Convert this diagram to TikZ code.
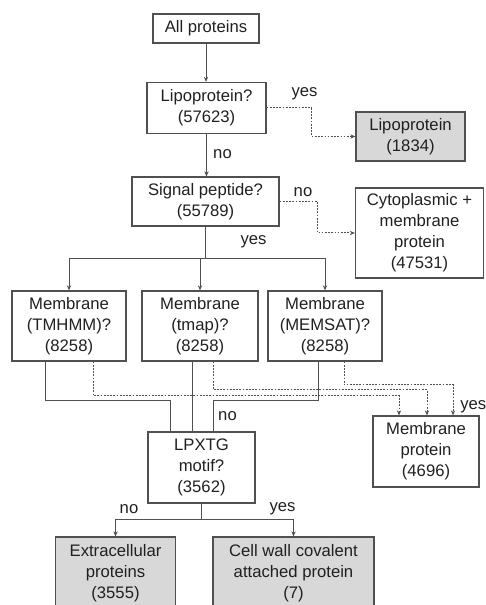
\documentclass[tikz,border=0pt]{standalone}
\usepackage{fontspec}
\setmainfont{Liberation Sans}
\usetikzlibrary{arrows.meta, calc}
\definecolor{linegray}{HTML}{505050}
\definecolor{boxgray}{HTML}{D8D8D8}
\definecolor{textgray}{HTML}{202020}
\begin{document}
\begin{tikzpicture}[x=0.75pt, y=-0.75pt,
	txt/.style={font=\fontsize{12.5}{15.75}\selectfont, text=textgray},
	box/.style={rectangle, draw=linegray, line width=0.9pt, align=center, inner sep=0pt, txt},
	result/.style={box, fill=boxgray},
	tag/.style={txt, inner sep=0pt},
	flow/.style={draw=linegray, line width=0.75pt},
	arr/.style={flow, -{Stealth[length=3.8pt, width=3.2pt]}},
	maybe/.style={arr, dash pattern=on 1.3pt off 1.1pt}]
			\useasboundingbox (0,0) rectangle (485,605);
			\node[box, minimum width=79.5pt, minimum height=21.75pt] (All) at (206,28.5) {All proteins};
			\node[box, minimum width=89.25pt, minimum height=38.25pt] (LipoQ) at (206.5,108) {Lipoprotein?\\(57623)};
			\node[result, minimum width=81.75pt, minimum height=36.75pt] (Lipo) at (410.5,136.5) {Lipoprotein\\(1834)};
			\node[box, minimum width=110.25pt, minimum height=36.75pt] (Signal) at (205.5,201.5) {Signal peptide?\\(55789)};
			\node[box, minimum width=96pt, minimum height=67.5pt] (Cyto) at (419.5,233) {Cytoplasmic +\\membrane\\protein\\(47531)};
			
			\node[box, minimum width=85.5pt, minimum height=52.5pt] (TMHMM) at (69,326) {Membrane\\(TMHMM)?\\(8258)};
			\node[box, minimum width=87pt, minimum height=52.5pt] (Tmap) at (200,326) {Membrane\\(tmap)?\\(8258)};
			\node[box, minimum width=85.5pt, minimum height=52.5pt] (MEMSAT) at (325,326) {Membrane\\(MEMSAT)?\\(8258)};
			\node[box, minimum width=79.5pt, minimum height=53.25pt] (MemProt) at (426,451.5) {Membrane\\protein\\(4696)};
			\node[box, minimum width=80.25pt, minimum height=53.25pt] (LPXTG) at (201.5,467.5) {LPXTG\\motif?\\(3562)};
			\node[result, minimum width=90pt, minimum height=54pt] (Extra) at (115.5,573) {Extracellular\\proteins\\(3555)};
			\node[result, minimum width=120.75pt, minimum height=54pt] (CellWall) at (293.5,573) {Cell wall covalent\\attached protein\\(7)};
			
			\node[tag] (yesLipo) at (304.5,94) {yes};
			\node[tag] (noLipo) at (222.5,154) {no};
			\node[tag] (noSignal) at (303,192.5) {no};
			\node[tag] (yesSignal) at (253.5,241.5) {yes};
			\node[tag] (noMem) at (227.5,416.5) {no};
			\node[tag, anchor=west] (yesMem) at (460,407) {yes};
			\node[tag] (noMotif) at (129,509) {no};
			\node[tag] (yesMotif) at (282.5,509) {yes};
			
			\draw[arr] (All.south) -- (All.south |- LipoQ.north);
			\draw[maybe] (LipoQ.east) -- ++(45,0) |- (Lipo.west);
			\draw[arr] (LipoQ.south) -- (LipoQ.south |- Signal.north);
			\draw[maybe] (Signal.east) -- ++(38,0) |- (Cyto.west);
			\draw[flow] (Signal.south) -- ++(0,32) coordinate (split);
			\foreach \m in {TMHMM, Tmap, MEMSAT}
				\draw[arr] (split) -| (\m.north);
			
			\draw[flow] ($(TMHMM.south)+(-24,0)$) -- ++(0,39) -| ($(LPXTG.north)+(-31.5,0)$);
			\coordinate (tmapOut) at ($(Tmap.south)+(-8,0)$);
			\draw[flow] (tmapOut) -- (tmapOut |- LPXTG.north);
			\draw[flow] ($(MEMSAT.south)+(-7,0)$) -- ++(0,39) -| ($(LPXTG.north)+(11.5,0)$);
			\draw[maybe] ($(TMHMM.south)+(24,0)$) -- ++(0,34) -| ($(MemProt.north)+(-27,0)$);
			\draw[maybe] ($(Tmap.south)+(13,0)$) -- ++(0,28) -| ($(MemProt.north)+(1,0)$);
			\draw[maybe] ($(MEMSAT.south)+(19,0)$) -- ++(0,23) -| ($(MemProt.north)+(27,0)$);
			
			\draw[flow] (LPXTG.south) -- ++(0,16) coordinate (fork);
			\draw[arr] (fork) -| (Extra.north);
			\draw[arr] (fork) -| (CellWall.north);
		\end{tikzpicture}
\end{document}
